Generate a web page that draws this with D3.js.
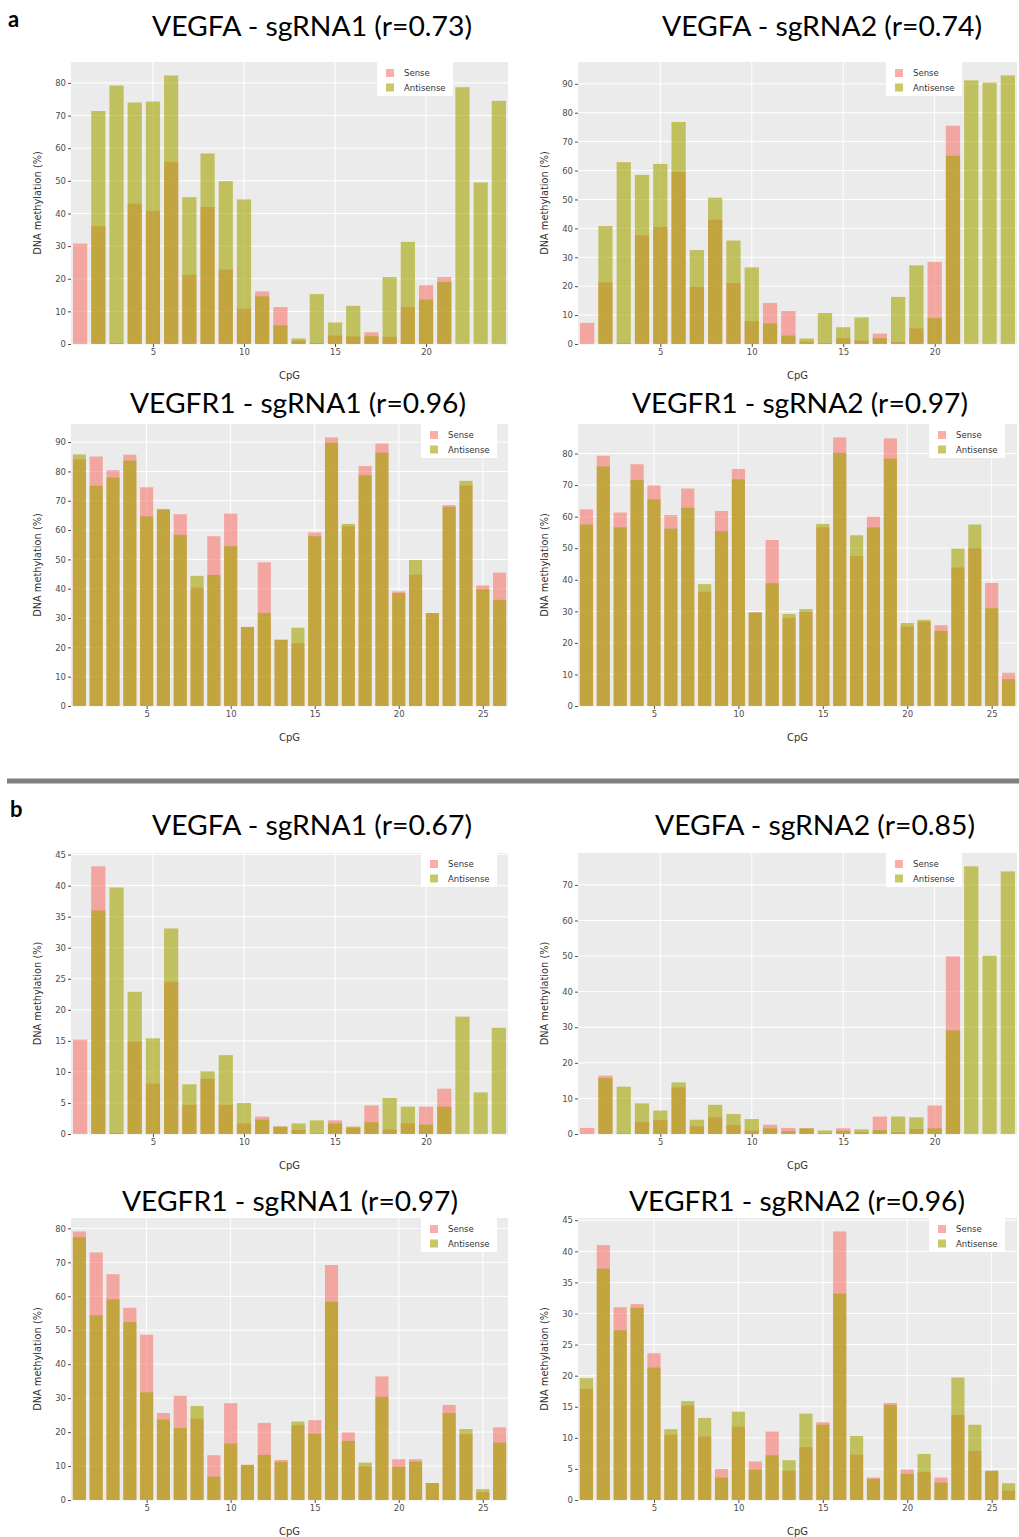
<!DOCTYPE html>
<html>
<head>
<meta charset="utf-8">
<script src="https://cdn.jsdelivr.net/npm/d3@7"></script>
<style>
  body { margin: 0; background: #fff; }
  svg { display: block; }
</style>
</head>
<body>
<svg id="fig" width="1019" height="1537"></svg>
<script>
// ---- data (DNA methylation %, per CpG) ----
const titles = [
  'VEGFA - sgRNA1 (r=0.73)', 'VEGFA - sgRNA2 (r=0.74)',
  'VEGFR1 - sgRNA1 (r=0.96)', 'VEGFR1 - sgRNA2 (r=0.97)',
  'VEGFA - sgRNA1 (r=0.67)', 'VEGFA - sgRNA2 (r=0.85)',
  'VEGFR1 - sgRNA1 (r=0.97)', 'VEGFR1 - sgRNA2 (r=0.96)'
];
const seriesNames = ['Sense', 'Antisense'];

// panel a
const a1Sense = [30.8, 36.1, 0.3, 43.0, 40.8, 55.8, 21.2, 42.0, 22.8, 10.8, 16.1, 11.3, 1.0, 0.3, 2.6, 2.3, 3.6, 2.2, 11.3, 18.0, 20.5, null, null, null];
const a1Anti  = [null, 71.4, 79.2, 74.0, 74.3, 82.3, 45.0, 58.4, 49.9, 44.3, 14.6, 5.7, 1.7, 15.3, 6.6, 11.7, 2.4, 20.5, 31.3, 13.6, 19.0, 78.7, 49.5, 74.5];
const a2Sense = [7.3, 21.3, 0.3, 37.6, 40.5, 59.5, 19.8, 43.0, 21.1, 7.9, 14.2, 11.4, 0.8, 0.3, 2.0, 1.2, 3.6, 0.7, 5.4, 28.4, 75.5, null, null, null];
const a2Anti  = [null, 40.8, 62.9, 58.5, 62.3, 76.8, 32.5, 50.6, 35.8, 26.5, 7.1, 2.9, 1.9, 10.7, 5.8, 9.2, 2.0, 16.3, 27.2, 9.0, 65.1, 91.2, 90.4, 92.9];
const a3Sense = [84.1, 85.1, 80.4, 85.7, 74.6, 67.2, 65.4, 40.4, 57.9, 65.6, 27.0, 49.0, 22.6, 21.4, 59.2, 91.6, 61.3, 81.8, 89.5, 39.1, 44.8, 31.7, 68.5, 75.2, 41.1, 45.5];
const a3Anti  = [85.8, 75.1, 77.9, 83.7, 64.7, 67.0, 58.4, 44.4, 44.7, 54.5, 26.9, 31.7, 22.6, 26.7, 57.9, 89.8, 62.1, 78.7, 86.4, 38.5, 49.8, 31.7, 67.9, 76.8, 39.8, 36.2];
const a4Sense = [62.3, 79.3, 61.3, 76.6, 69.9, 60.5, 68.9, 36.2, 61.8, 75.1, 29.7, 52.6, 27.9, 29.8, 56.6, 85.1, 47.5, 60.0, 84.8, 25.2, 26.7, 25.6, 43.9, 50.0, 39.0, 10.5];
const a4Anti  = [57.5, 75.9, 56.6, 71.6, 65.5, 56.2, 62.8, 38.6, 55.4, 71.8, 29.6, 38.9, 29.2, 30.7, 57.7, 80.2, 54.1, 56.6, 78.4, 26.3, 27.3, 23.8, 49.9, 57.5, 31.0, 8.5];
// panel b
const b1Sense = [15.2, 43.1, 0.2, 14.9, 8.1, 24.5, 4.7, 8.9, 4.7, 1.7, 2.8, 1.2, 0.65, 0.1, 2.2, 1.0, 4.6, 0.7, 1.7, 4.4, 7.3, null, null, null];
const b1Anti  = [null, 36.0, 39.7, 22.9, 15.4, 33.1, 8.0, 10.1, 12.7, 5.0, 2.3, 1.2, 1.7, 2.2, 1.7, 1.2, 1.9, 5.8, 4.4, 1.5, 4.4, 18.9, 6.7, 17.1];
const b2Sense = [1.7, 16.4, 0.2, 3.4, 3.9, 13.1, 2.2, 4.7, 2.5, 0.9, 2.6, 1.7, 1.6, 0.2, 1.6, 0.5, 4.9, 0.5, 1.4, 8.0, 49.9, null, null, null];
const b2Anti  = [null, 15.7, 13.3, 8.6, 6.6, 14.5, 4.0, 8.2, 5.6, 4.2, 1.6, 0.8, 1.6, 1.0, 0.9, 1.3, 1.1, 4.9, 4.7, 1.6, 29.1, 75.2, 50.1, 73.8];
const b3Sense = [79.1, 72.9, 66.5, 56.6, 48.7, 25.6, 30.7, 24.0, 13.2, 28.5, 10.4, 22.7, 11.8, 22.0, 23.5, 69.2, 19.9, 9.9, 36.4, 12.0, 12.0, 5.0, 28.0, 19.4, 2.3, 21.4];
const b3Anti  = [77.4, 54.4, 59.1, 52.4, 31.7, 23.7, 21.2, 27.7, 6.9, 16.6, 10.3, 13.3, 11.2, 23.1, 19.5, 58.4, 17.4, 11.0, 30.4, 9.8, 11.3, 5.0, 25.6, 20.9, 3.2, 16.9];
const b4Sense = [17.9, 41.0, 31.0, 31.5, 23.6, 10.5, 15.2, 10.2, 5.0, 11.8, 6.2, 11.0, 4.7, 8.5, 12.5, 43.2, 7.3, 3.6, 15.6, 4.9, 4.5, 3.6, 13.7, 7.9, 4.7, 1.5];
const b4Anti  = [19.6, 37.2, 27.3, 30.9, 21.3, 11.4, 15.9, 13.2, 3.6, 14.2, 4.9, 7.2, 6.4, 13.9, 12.1, 33.2, 10.3, 3.4, 15.3, 4.2, 7.4, 2.8, 19.7, 12.1, 4.7, 2.7];

const senseSets = [a1Sense, a2Sense, a3Sense, a4Sense, b1Sense, b2Sense, b3Sense, b4Sense];
const antiSets  = [a1Anti, a2Anti, a3Anti, a4Anti, b1Anti, b2Anti, b3Anti, b4Anti];

// ---- layout ----
const colX = [[71, 508], [578, 1017]];          // panel left/right
const rowY = [[62, 344], [424, 706], [853, 1134], [1218, 1500]]; // panel top / zero line
const titleCx = [312, 822, 298, 800, 312, 815, 290, 797];
const titleCy = [25, 25, 402, 402, 824, 824, 1200, 1200];
const legendRightGap = [55, 55, 11, 12, 11, 55, 11, 12];

const colSense = '#F8766D', colAnti = '#A3A500', alpha = 0.6;
const svg = d3.select('#fig');

titles.forEach((title, i) => {
  const [x0, x1] = colX[i % 2];
  const [y0, y1] = rowY[Math.floor(i / 2)];
  const sense = senseSets[i], anti = antiSets[i];
  const n = sense.length;
  const cpg = d3.range(1, n + 1);

  const ymax = d3.max(sense.concat(anti)) * 1.05;
  const x = d3.scaleLinear().domain([0.5, n + 0.5]).range([x0, x1]);
  const y = d3.scaleLinear().domain([0, ymax]).range([y1, y0]);
  const bw = (x(1) - x(0)) * 0.78;

  const g = svg.append('g');
  g.append('rect').attr('x', x0).attr('y', y0).attr('width', x1 - x0).attr('height', y1 - y0 + 1)
    .attr('fill', '#EBEBEB');

  const yt = y.ticks(10).filter(v => v <= ymax);
  const xt = [5, 10, 15, 20, 25].filter(v => v <= n);
  g.selectAll('.hg').data(yt).join('line')
    .attr('x1', x0).attr('x2', x1).attr('y1', d => y(d)).attr('y2', d => y(d))
    .attr('stroke', '#fff').attr('stroke-width', 1);
  g.selectAll('.vg').data(xt).join('line')
    .attr('x1', d => x(d)).attr('x2', d => x(d)).attr('y1', y0).attr('y2', y1)
    .attr('stroke', '#fff').attr('stroke-width', 1);

  // sense first, antisense drawn on top (overlap gives the mustard colour)
  [[sense, colSense], [anti, colAnti]].forEach(([vals, c]) => {
    g.append('g').selectAll('rect')
      .data(cpg.filter((d, k) => vals[k] != null))
      .join('rect')
      .attr('x', d => x(d) - bw / 2)
      .attr('width', bw)
      .attr('y', d => y(vals[d - 1]))
      .attr('height', d => y(0) - y(vals[d - 1]))
      .attr('fill', c).attr('fill-opacity', alpha);
  });

  // axes
  const yAxis = d3.axisLeft(y).tickValues(yt).tickSize(3).tickPadding(2);
  const ya = g.append('g').attr('transform', `translate(${x0},0)`).call(yAxis);
  const xAxis = d3.axisBottom(x).tickValues(xt).tickSize(3).tickPadding(2);
  const xa = g.append('g').attr('transform', `translate(0,${y1})`).call(xAxis);
  [ya, xa].forEach(a => {
    a.select('.domain').remove();
    a.selectAll('line').attr('stroke', '#4d4d4d');
    a.selectAll('text').attr('fill', '#4d4d4d')
      .style('font-family', 'DejaVu Sans').style('font-size', '8.5px');
  });

  g.append('text').attr('transform', `translate(${x0 - 34},${(y0 + y1) / 2}) rotate(-90)`)
    .attr('text-anchor', 'middle').attr('dominant-baseline', 'central')
    .style('font-family', 'DejaVu Sans').style('font-size', '9.8px').attr('fill', '#333')
    .text('DNA methylation (%)');
  g.append('text').attr('x', (x0 + x1) / 2).attr('y', y1 + 31)
    .attr('text-anchor', 'middle').attr('dominant-baseline', 'central')
    .style('font-family', 'DejaVu Sans').style('font-size', '10px').attr('fill', '#333')
    .text('CpG');

  // legend
  const lw = 76, lh = 37;
  const lx = x1 - legendRightGap[i] - lw, ly = y0 - 3;
  const lg = g.append('g').attr('transform', `translate(${lx},${ly})`);
  lg.append('rect').attr('width', lw).attr('height', lh).attr('fill', '#fff');
  seriesNames.forEach((s, k) => {
    lg.append('rect').attr('x', 9).attr('y', 10 + k * 14.5).attr('width', 8).attr('height', 8)
      .attr('fill', k === 0 ? colSense : colAnti).attr('fill-opacity', alpha);
    lg.append('text').attr('x', 27).attr('y', 14 + k * 14.5).attr('dominant-baseline', 'central')
      .style('font-family', 'DejaVu Sans').style('font-size', '8.5px').attr('fill', '#333')
      .text(s);
  });

  // title
  svg.append('text').attr('x', titleCx[i]).attr('y', titleCy[i])
    .attr('text-anchor', 'middle').attr('dominant-baseline', 'central')
    .attr('textLength', title.startsWith('VEGFR1') ? 336 : 320)
    .attr('lengthAdjust', 'spacingAndGlyphs')
    .style('font-family', 'Lato, "Open Sans", sans-serif').style('font-size', '27px')
    .attr('fill', '#000')
    .text(title);
});

// panel letters and separator
svg.append('text').attr('x', 8).attr('y', 18).attr('dominant-baseline', 'central')
  .style('font-family', 'Lato, sans-serif').style('font-weight', 'bold').style('font-size', '22px').text('a');
svg.append('text').attr('x', 10).attr('y', 808).attr('dominant-baseline', 'central')
  .style('font-family', 'Lato, sans-serif').style('font-weight', 'bold').style('font-size', '22px').text('b');
svg.append('line').attr('x1', 7).attr('x2', 1019).attr('y1', 781).attr('y2', 781)
  .attr('stroke', '#808080').attr('stroke-width', 5);
</script>
</body>
</html>
